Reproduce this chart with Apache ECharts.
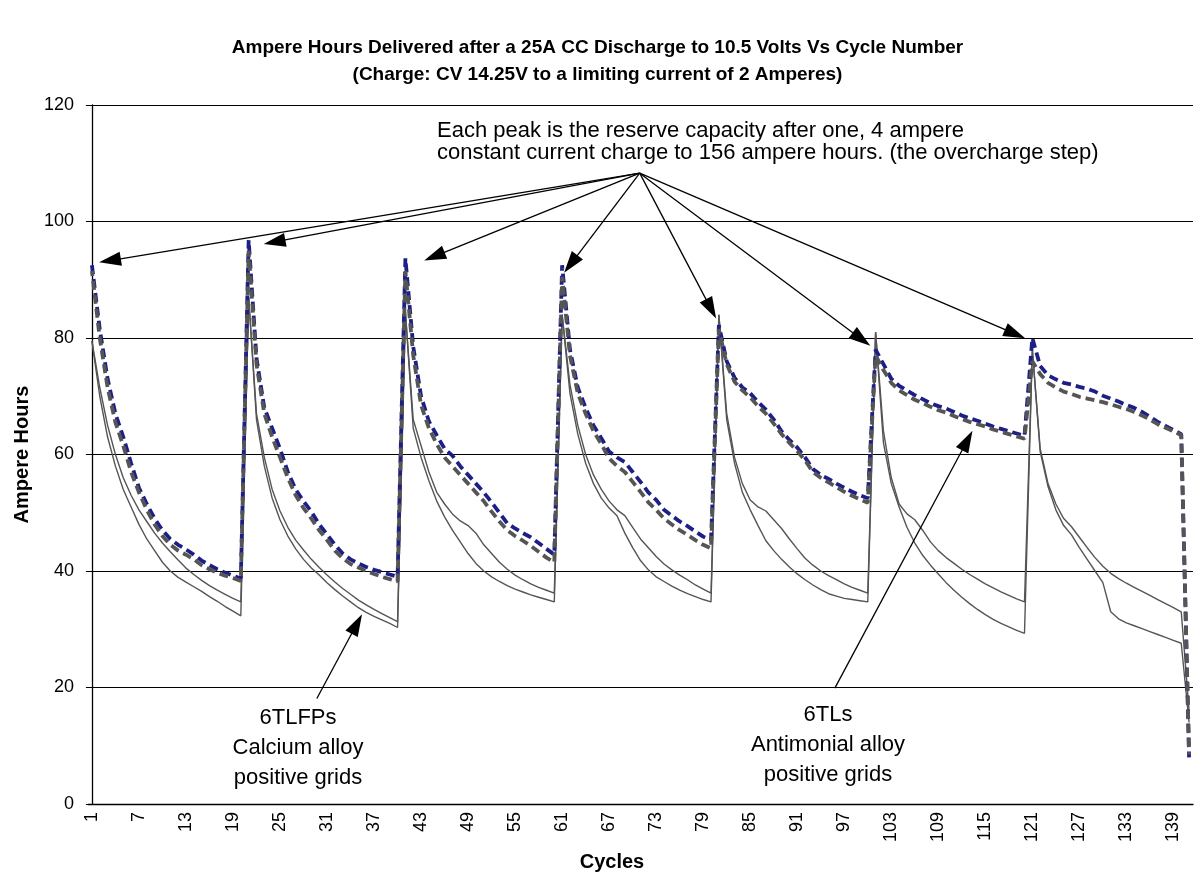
<!DOCTYPE html>
<html>
<head>
<meta charset="utf-8">
<script src="https://cdn.jsdelivr.net/npm/echarts@6/dist/echarts.min.js"></script>
<style>
  html, body { margin: 0; padding: 0; background: #fff; }
  #main { width: 1195px; height: 896px; }
</style>
</head>
<body>
<div id="main"></div>
<script>
// cycles 1..141 (x categories)
const cycles = []
for (let i = 1; i <= 141; i++) cycles.push(String(i))

const yTicks = [0, 20, 40, 60, 80, 100, 120]

// 6TLs, antimonial alloy (dashed) - two batteries
const tlBlue = [
  92.5, 81.5, 73, 67, 63, 58.5, 54.3, 51.5, 49, 47, 45.5, 44.5, 43.7, 42.8, 41.8, 41, 40.3, 39.7, 39.2, 38.7,
  96.8, 76.5, 68, 64.5, 61, 57, 54, 52, 50.2, 48, 46.3, 44.5, 43, 42, 41.3, 40.7, 40.2, 39.8, 39.4, 39,
  93.7, 78.5, 70, 65.7, 63.3, 61, 59.8, 58, 56.5, 55, 53.5, 51.8, 50, 48.2, 47.3, 46.5, 45.8, 44.8, 43.8, 42.8,
  92.5, 78, 71.5, 68, 65, 62.8, 60.5, 59.5, 58.7, 57, 55.3, 53.5, 52.2, 50.5, 49.5, 48.5, 47.7, 46.8, 45.9, 45.3,
  82.2, 76, 73.2, 71.5, 70.5, 69, 67.7, 66, 64, 62.5, 61.2, 59.5, 57.5, 56.5, 55.8, 55, 54.3, 53.6, 53, 52.5,
  78, 75.5, 73, 71.8, 71, 70.2, 69.5, 68.8, 68.3, 67.9, 67.3, 66.7, 66.2, 65.8, 65.3, 64.8, 64.4, 64, 63.6, 63.2,
  80, 75.2, 73.6, 72.9, 72.3, 72, 71.6, 71.3, 70.8, 70.1, 69.6, 69.1, 68.5, 68, 67.3, 66.5, 65.6, 64.9, 64.2, 63.5,
  8
]
const tlGray = [
  91.5, 80, 71.5, 65.5, 61.5, 57, 53.5, 50.5, 48, 46, 44.5, 43.5, 42.8, 42, 41, 40.3, 39.7, 39.2, 38.8, 38.3,
  95, 75.5, 67, 63, 59.5, 56, 53, 50.8, 49, 47, 45.3, 43.5, 42.2, 41.2, 40.6, 40, 39.5, 39, 38.6, 38.2,
  91.5, 77, 68.5, 64.5, 61.8, 59.5, 58, 56.5, 55, 53.5, 52, 50.2, 48.5, 47, 46, 45.2, 44.3, 43.3, 42.3, 41.5,
  90.5, 77, 70.5, 67, 64, 61.8, 59.3, 58, 57, 55.3, 53.6, 51.8, 50.5, 49, 48, 47, 46.2, 45.3, 44.5, 43.9,
  81.5, 75.5, 72.5, 71, 69.8, 68.3, 67, 65.3, 63.5, 62, 60.6, 59, 57, 56, 55.2, 54.4, 53.6, 52.9, 52.3, 51.7,
  77, 74.5, 72.3, 71, 70.2, 69.4, 68.8, 68.2, 67.6, 67.2, 66.6, 66.1, 65.6, 65.2, 64.8, 64.3, 63.9, 63.5, 63.1, 62.7,
  76, 73.8, 72.3, 71.5, 70.8, 70.4, 69.9, 69.6, 69.3, 69, 68.6, 68.2, 67.8, 67.3, 66.7, 66, 65.2, 64.6, 64, 63.3,
  8.5
]

// 6TLFPs, calcium alloy (thin solid) - two batteries
const fpA = [
  79.5, 70, 63, 58, 54, 51, 48, 45.5, 43.5, 41.5, 40, 38.9, 38.1, 37.3, 36.5, 35.6, 34.8, 33.9, 33.1, 32.3,
  87, 66, 58, 52.5, 48.8, 46, 43.8, 42, 40.5, 39.3, 38, 36.8, 35.7, 34.7, 33.7, 32.9, 32.2, 31.6, 31, 30.3,
  84.5, 64.5, 59.5, 55.5, 52, 49.3, 47, 45, 43, 41.3, 40, 39, 38.2, 37.5, 36.9, 36.4, 35.9, 35.5, 35.1, 34.7,
  84, 70.5, 63.5, 58.5, 55, 52.5, 50.8, 49.5, 46.5, 44, 41.8, 40.2, 39, 38.2, 37.4, 36.7, 36.1, 35.6, 35.1, 34.7,
  84, 66, 58.5, 53.5, 50.5, 47.8, 45.2, 43.5, 42, 40.7, 39.5, 38.5, 37.6, 36.8, 36.1, 35.7, 35.3, 35.1, 34.9, 34.7,
  81, 62, 55, 51, 47.5, 44.8, 42.7, 41, 39.5, 38, 36.7, 35.5, 34.4, 33.4, 32.5, 31.7, 31, 30.4, 29.8, 29.3,
  78, 60.5, 54.5, 50.5, 47.8, 46.2, 44, 42, 40, 38, 33, 31.8, 31.1, 30.6, 30.1, 29.6, 29.1, 28.6, 28.1, 27.6,
  14
]
const fpB = [
  79.5, 71.5, 65, 60, 56, 53, 50.5, 48.5, 46.5, 44.8, 43.3, 41.9, 40.5, 39.4, 38.4, 37.5, 36.7, 36, 35.3, 34.7,
  87, 67, 59.5, 54, 50.3, 47.5, 45.3, 43.6, 42, 40.6, 39.3, 38.1, 37, 36, 35, 34.2, 33.4, 32.7, 32, 31.3,
  84.5, 66, 61.5, 57, 53.5, 51.5, 49.8, 48.6, 47.8, 46.5, 44.5, 43, 41.5, 40.3, 39.3, 38.5, 37.8, 37.2, 36.7, 36.2,
  84, 72, 65, 60, 56.5, 54, 52, 50.5, 49.5, 47.5, 45.5, 44, 42.5, 41.2, 40.2, 39.3, 38.5, 37.6, 36.9, 36.2,
  84, 67, 59.5, 55, 52.2, 51, 50.3, 48.8, 47.3, 45.5, 43.8, 42.2, 41, 40, 39.2, 38.5, 37.8, 37.2, 36.7, 36.2,
  81, 64, 56, 51.5, 49.8, 48.8, 47, 45, 43.5, 42.3, 41.3, 40.3, 39.4, 38.6, 37.8, 37.1, 36.4, 35.8, 35.2, 34.7,
  78, 61, 55, 51.5, 49, 47.6, 45.8, 44, 42.3, 40.8, 39.6, 38.7, 37.9, 37.2, 36.5, 35.8, 35.1, 34.4, 33.7, 33,
  16
]

// annotation arrows, in (cycle index, ampere hours)
const peakArrowFrom = [69.9, 108.3]
const peakArrowTo = [[2.3, 93.3], [23.3, 96.5], [43.7, 94.0], [61.1, 92.7], [79.0, 85.0], [98.2, 79.8], [117.8, 80.7]]
const labelArrows = [
  [[28.7, 18.1], [33.8, 30.9]],
  [[94.8, 19.9], [111.7, 62.4]]
]

const FONT = "'Liberation Sans', Arial, Helvetica, sans-serif"

const chart = echarts.init(document.getElementById('main'))

const arrowData = peakArrowTo.map(p => ({ coords: [peakArrowFrom, p] }))
  .concat(labelArrows.map(a => ({ coords: a })))

const option = {
  animation: false,
  backgroundColor: '#fff',
  title: {
    text: 'Ampere Hours Delivered after a 25A CC Discharge to 10.5 Volts Vs Cycle Number\n(Charge: CV 14.25V to a limiting current of 2 Amperes)',
    left: 'center',
    top: 29,
    textStyle: {
      fontFamily: FONT,
      fontWeight: 'bold',
      fontSize: 19,
      lineHeight: 27,
      color: '#000',
    },
  },
  grid: {
    left: 88,
    right: 2,
    top: 105,
    bottom: 92,
  },
  xAxis: [
    {
      type: 'category',
      data: cycles,
      boundaryGap: true,
      axisLine: { lineStyle: { color: '#000', width: 1.3 } },
      axisTick: { interval: 0, length: 5, lineStyle: { color: '#000' } },
      axisLabel: {
        interval: 5,
        rotate: 90,
        fontSize: 18,
        fontFamily: FONT,
        color: '#000',
        margin: 8,
      },
      splitLine: { show: false },
    },
    {
      // hidden axis so the arrows can sit between categories
      type: 'value',
      min: -0.5,
      max: 140.5,
      show: false,
    },
  ],
  yAxis: {
    type: 'value',
    min: yTicks[0],
    max: yTicks[yTicks.length - 1],
    interval: 20,
    name: 'Ampere Hours',
    nameLocation: 'middle',
    nameGap: 56,
    nameTextStyle: {
      fontFamily: FONT,
      fontWeight: 'bold',
      fontSize: 20,
      color: '#000',
    },
    axisLine: { show: true, lineStyle: { color: '#000', width: 1.3 } },
    axisTick: { show: true, length: 6, lineStyle: { color: '#000' } },
    axisLabel: {
      fontSize: 18,
      fontFamily: FONT,
      color: '#000',
      margin: 14,
    },
    splitLine: { lineStyle: { color: '#000', width: 1.2 } },
  },
  series: [
    {
      name: '6TLFPs A',
      type: 'line',
      data: fpA,
      showSymbol: false,
      lineStyle: { color: '#555', width: 1.4 },
      z: 2,
    },
    {
      name: '6TLFPs B',
      type: 'line',
      data: fpB,
      showSymbol: false,
      lineStyle: { color: '#555', width: 1.4 },
      z: 2,
    },
    {
      name: '6TLs A',
      type: 'line',
      data: tlBlue,
      showSymbol: false,
      lineStyle: { color: '#1c1f86', width: 3.8, type: [9, 5] },
      z: 3,
    },
    {
      name: '6TLs B',
      type: 'line',
      data: tlGray,
      showSymbol: false,
      lineStyle: { color: '#555', width: 3.8, type: [9, 5], dashOffset: 4 },
      z: 4,
    },
    {
      name: 'arrows',
      type: 'lines',
      coordinateSystem: 'cartesian2d',
      xAxisIndex: 1,
      yAxisIndex: 0,
      symbol: ['none', 'triangle'],
      symbolSize: [0, [14, 22]],
      silent: true,
      lineStyle: { color: '#000', width: 1.3, opacity: 1 },
      data: arrowData,
      z: 6,
    },
  ],
  graphic: [
    {
      type: 'text',
      silent: true,
      style: {
        x: 437,
        y: 120,
        text: 'Each peak is the reserve capacity after one, 4 ampere\nconstant current charge to 156 ampere hours. (the overcharge step)',
        font: '22px ' + FONT,
        lineHeight: 22,
        fill: '#000',
        textAlign: 'left',
        textVerticalAlign: 'top',
      },
    },
    {
      type: 'text',
      silent: true,
      style: {
        x: 298,
        y: 703,
        text: '6TLFPs\nCalcium alloy\npositive grids',
        font: '22px ' + FONT,
        lineHeight: 30,
        fill: '#000',
        textAlign: 'center',
        textVerticalAlign: 'top',
      },
    },
    {
      type: 'text',
      silent: true,
      style: {
        x: 828,
        y: 700,
        text: '6TLs\nAntimonial alloy\npositive grids',
        font: '22px ' + FONT,
        lineHeight: 30,
        fill: '#000',
        textAlign: 'center',
        textVerticalAlign: 'top',
      },
    },
    {
      type: 'text',
      silent: true,
      style: {
        x: 612,
        y: 862,
        text: 'Cycles',
        font: 'bold 20px ' + FONT,
        fill: '#000',
        textAlign: 'center',
        textVerticalAlign: 'middle',
      },
    },
  ],
}

chart.setOption(option)
</script>
</body>
</html>
